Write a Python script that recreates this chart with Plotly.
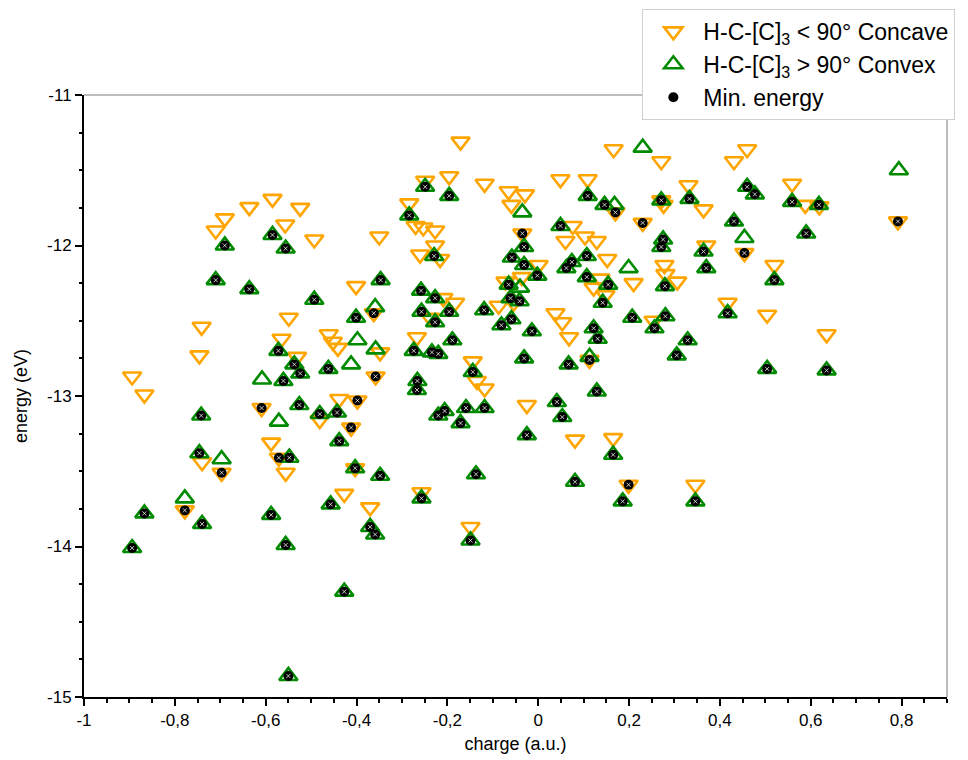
import plotly.graph_objects as go

# H-C-[C]3 < 90 deg (concave) configurations: charge (a.u.), energy (eV)
concave_x = [
    -0.585, -0.636, -0.524, -0.690, -0.710, -0.557, -0.493, -0.350, -0.401, -0.549,
    -0.741, -0.746, -0.894, -0.867, -0.565, -0.461, -0.452, -0.441, -0.362, -0.531,
    -0.348, -0.358, -0.438, -0.398, -0.609, -0.171, 0.166, -0.249, -0.196, -0.118,
    0.049, 0.109, -0.065, -0.029, -0.059, -0.284, -0.270, -0.253, -0.227, -0.227,
    -0.260, -0.216, 0.076, 0.060, 0.170, 0.230, -0.035, 0.103, 0.129, 0.001,
    0.152, 0.210, 0.137, 0.122, 0.148, -0.036, -0.072, -0.054, -0.087, -0.209,
    -0.183, -0.238, 0.038, 0.053, 0.068, 0.254, -0.267, 0.113, -0.144, -0.135,
    -0.118, -0.025, 0.271, 0.460, 0.431, 0.559, 0.588, 0.619, 0.792, 0.331,
    0.271, 0.276, 0.364, 0.454, 0.370, 0.520, 0.278, 0.280, 0.306, 0.417,
    0.504, 0.635, -0.412, -0.588, -0.740, -0.697, -0.571, -0.556, -0.403, -0.778,
    -0.427, -0.370, -0.481, 0.081, 0.165, 0.199, -0.257, -0.149, 0.346,
]
concave_y = [
    -11.69, -11.745, -11.75, -11.82, -11.90, -11.86, -11.96, -11.94, -12.27, -12.48,
    -12.54, -12.73, -12.87, -12.99, -12.62, -12.59, -12.64, -12.68, -12.45, -12.74,
    -12.71, -12.87, -13.02, -13.03, -13.08, -11.31, -11.36, -11.57, -11.54, -11.59,
    -11.56, -11.56, -11.64, -11.66, -11.73, -11.72, -11.87, -11.88, -11.90, -12.00,
    -12.06, -12.09, -11.87, -11.97, -11.78, -11.85, -11.92, -11.94, -11.97, -12.13,
    -12.09, -12.25, -12.22, -12.28, -12.33, -12.21, -12.24, -12.38, -12.40, -12.35,
    -12.38, -12.48, -12.45, -12.51, -12.61, -12.50, -12.61, -12.76, -12.77, -12.90,
    -12.95, -13.06, -11.44, -11.36, -11.44, -11.59, -11.73, -11.74, -11.84, -11.60,
    -11.70, -11.73, -11.76, -12.05, -12.00, -12.13, -12.13, -12.19, -12.24, -12.38,
    -12.46, -12.59, -13.21, -13.31, -13.44, -13.51, -13.41, -13.51, -13.48, -13.76,
    -13.65, -13.74, -13.16, -13.29, -13.28, -13.59, -13.64, -13.87, -13.59,
]

# H-C-[C]3 > 90 deg (convex) configurations
convex_x = [
    -0.585, -0.690, -0.556, -0.710, -0.636, -0.493, -0.347, -0.401, -0.572, -0.537,
    -0.524, -0.561, -0.462, -0.526, -0.742, -0.443, -0.481, -0.398, -0.608, -0.412,
    -0.358, -0.359, -0.249, -0.196, 0.109, -0.035, -0.284, -0.229, 0.049, 0.146,
    0.168, -0.031, 0.107, -0.058, -0.031, -0.002, 0.074, 0.062, 0.199, 0.107,
    0.154, 0.142, -0.065, -0.040, -0.061, -0.041, -0.258, -0.227, -0.196, -0.257,
    -0.227, -0.119, 0.207, 0.256, -0.081, -0.059, -0.014, 0.122, 0.131, -0.189,
    -0.274, -0.234, -0.220, -0.031, 0.067, 0.113, -0.144, -0.266, -0.267, 0.129,
    0.041, -0.206, -0.159, -0.118, 0.794, 0.460, 0.477, 0.559, 0.618, 0.333,
    0.271, 0.431, 0.590, 0.454, 0.275, 0.271, 0.364, 0.370, 0.520, 0.279,
    0.417, 0.280, 0.329, 0.305, 0.504, 0.635, -0.571, -0.438, -0.746, -0.697,
    -0.548, -0.403, -0.348, -0.778, -0.867, -0.740, -0.588, -0.457, -0.370, -0.359,
    -0.556, -0.894, -0.427, -0.550, -0.220, -0.171, 0.053, -0.025, 0.165, 0.081,
    -0.137, -0.257, 0.186, -0.149, 0.346, 0.230,
]
convex_y = [
    -11.93, -12.00, -12.02, -12.23, -12.29, -12.36, -12.23, -12.48, -12.70, -12.79,
    -12.85, -12.90, -12.82, -13.06, -13.13, -13.11, -13.12, -12.63, -12.89, -12.79,
    -12.69, -12.41, -11.61, -11.67, -11.67, -11.78, -11.80, -12.07, -11.87, -11.73,
    -11.73, -12.01, -12.07, -12.08, -12.13, -12.20, -12.11, -12.15, -12.15, -12.21,
    -12.26, -12.38, -12.26, -12.28, -12.35, -12.37, -12.30, -12.35, -12.44, -12.44,
    -12.51, -12.43, -12.48, -12.55, -12.53, -12.49, -12.57, -12.55, -12.62, -12.63,
    -12.70, -12.71, -12.72, -12.75, -12.79, -12.74, -12.84, -12.90, -12.96, -12.97,
    -13.04, -13.10, -13.08, -13.08, -11.50, -11.61, -11.66, -11.71, -11.73, -11.69,
    -11.70, -11.84, -11.92, -11.95, -11.96, -12.01, -12.04, -12.15, -12.23, -12.27,
    -12.45, -12.47, -12.63, -12.73, -12.82, -12.83, -13.17, -13.30, -13.38, -13.42,
    -13.41, -13.48, -13.53, -13.68, -13.78, -13.85, -13.79, -13.72, -13.87, -13.92,
    -13.99, -14.01, -14.30, -14.86, -13.13, -13.18, -13.14, -13.26, -13.39, -13.57,
    -13.52, -13.68, -13.70, -13.96, -13.70, -11.35,
]

# Lowest-energy configuration of each site
min_energy_x = [
    -0.585, -0.690, -0.556, -0.710, -0.636, -0.493, -0.347, -0.401, -0.572, -0.537,
    -0.524, -0.561, -0.462, -0.526, -0.742, -0.443, -0.481,
    -0.249, -0.196, 0.109, -0.284, -0.229, 0.049, 0.146,
    -0.031, 0.107, -0.058, -0.031, -0.002, 0.074, 0.062, 0.107,
    0.154, 0.142, -0.065, -0.061, -0.041, -0.258, -0.227, -0.196, -0.257,
    -0.227, -0.119, 0.207, 0.256, -0.081, -0.059, -0.014, 0.122, 0.131, -0.189,
    -0.274, -0.234, -0.220, -0.031, 0.067, -0.144, -0.266, -0.267, 0.129,
    0.041, -0.206, -0.159, -0.118, 0.460, 0.477, 0.559, 0.618, 0.333,
    0.271, 0.431, 0.590, 0.275, 0.271, 0.364, 0.370, 0.520, 0.279,
    0.417, 0.280, 0.329, 0.305, 0.504, 0.635, -0.438, -0.746,
    -0.548, -0.403, -0.348, -0.867, -0.740, -0.588, -0.457, -0.370, -0.359,
    -0.556, -0.894, -0.427, -0.550, -0.220, -0.171, 0.053, -0.025, 0.165, 0.081,
    -0.137, -0.257, 0.186, -0.149, 0.346,
    -0.362, -0.358, -0.398, -0.609, 0.170, 0.230, -0.035, 0.113, 0.792, 0.454,
    -0.412, -0.697, -0.571, -0.778, 0.199,
]
min_energy_y = [
    -11.93, -12.00, -12.02, -12.23, -12.29, -12.36, -12.23, -12.48, -12.70, -12.79,
    -12.85, -12.90, -12.82, -13.06, -13.13, -13.11, -13.12,
    -11.61, -11.67, -11.67, -11.80, -12.07, -11.87, -11.73,
    -12.01, -12.07, -12.08, -12.13, -12.20, -12.11, -12.15, -12.21,
    -12.26, -12.38, -12.26, -12.35, -12.37, -12.30, -12.35, -12.44, -12.44,
    -12.51, -12.43, -12.48, -12.55, -12.53, -12.49, -12.57, -12.55, -12.62, -12.63,
    -12.70, -12.71, -12.72, -12.75, -12.79, -12.84, -12.90, -12.96, -12.97,
    -13.04, -13.10, -13.08, -13.08, -11.61, -11.66, -11.71, -11.73, -11.69,
    -11.70, -11.84, -11.92, -11.96, -12.01, -12.04, -12.15, -12.23, -12.27,
    -12.45, -12.47, -12.63, -12.73, -12.82, -12.83, -13.30, -13.38,
    -13.41, -13.48, -13.53, -13.78, -13.85, -13.79, -13.72, -13.87, -13.92,
    -13.99, -14.01, -14.30, -14.86, -13.13, -13.18, -13.14, -13.26, -13.39, -13.57,
    -13.52, -13.68, -13.70, -13.96, -13.70,
    -12.45, -12.87, -13.03, -13.08, -11.78, -11.85, -11.92, -12.76, -11.84, -12.05,
    -13.21, -13.51, -13.41, -13.76, -13.59,
]

x_tick_vals = [-1, -0.8, -0.6, -0.4, -0.2, 0, 0.2, 0.4, 0.6, 0.8]
x_tick_text = ["-1", "-0,8", "-0,6", "-0,4", "-0,2", "0", "0,2", "0,4", "0,6", "0,8"]
y_tick_vals = [-15, -14, -13, -12, -11]
y_tick_text = ["-15", "-14", "-13", "-12", "-11"]

FONT = "Liberation Sans, Arial, Helvetica, sans-serif"
ORANGE = "#ffa500"
GREEN = "#008a00"

fig = go.Figure()

fig.add_trace(go.Scatter(
    x=concave_x, y=concave_y, mode="markers",
    name="H-C-[C]<sub>3</sub> < 90° Concave", legendgroup="a",
    marker=dict(symbol="triangle-down-open", size=16, color=ORANGE,
                line=dict(width=2.6, color=ORANGE)),
))
fig.add_trace(go.Scatter(
    x=convex_x, y=convex_y, mode="markers",
    name="H-C-[C]<sub>3</sub> > 90° Convex", legendgroup="b",
    marker=dict(symbol="triangle-up-open", size=16, color=GREEN,
                line=dict(width=2.6, color=GREEN)),
))
fig.add_trace(go.Scatter(
    x=min_energy_x, y=min_energy_y, mode="markers",
    name="Min. energy", legendgroup="c",
    marker=dict(symbol="circle", size=10, color="black", line=dict(width=0)),
))
# speckled highlight inside each min-energy dot
fig.add_trace(go.Scatter(
    x=min_energy_x, y=min_energy_y, mode="markers", showlegend=False,
    hoverinfo="skip",
    marker=dict(symbol="x-thin-open", size=4, color="rgba(255,255,255,0.75)",
                line=dict(width=1, color="rgba(255,255,255,0.75)")),
))

axis_common = dict(
    showline=True, linecolor="black", linewidth=2, mirror=False,
    showgrid=False, zeroline=False,
    ticks="outside", tickwidth=2, tickcolor="black",
    tickfont=dict(family=FONT, size=17, color="black"),
)

fig.update_xaxes(
    range=[-1, 0.9], tickmode="array", tickvals=x_tick_vals, ticktext=x_tick_text,
    ticklen=7,
    minor=dict(tickmode="linear", tick0=-1, dtick=0.05, ticks="outside",
               ticklen=4, tickwidth=2, tickcolor="black", showgrid=False),
    title=dict(text="charge (a.u.)", font=dict(family=FONT, size=18, color="black"),
               standoff=8),
    **axis_common,
)
fig.update_yaxes(
    range=[-15, -11], tickmode="array", tickvals=y_tick_vals, ticktext=y_tick_text,
    ticklen=7,
    minor=dict(tickmode="linear", tick0=-15, dtick=0.25, ticks="outside",
               ticklen=3, tickwidth=2, tickcolor="black", showgrid=False),
    title=dict(text="energy (eV)", font=dict(family=FONT, size=18, color="black"),
               standoff=15),
    **axis_common,
)

# thin frame on the top and right sides
fig.add_shape(type="line", xref="paper", yref="paper", x0=0, x1=1, y0=1, y1=1,
              line=dict(color="#7a7a7a", width=1), layer="below")
fig.add_shape(type="line", xref="paper", yref="paper", x0=1, x1=1, y0=0, y1=1,
              line=dict(color="#7a7a7a", width=1), layer="below")

fig.update_layout(
    width=968, height=760,
    margin=dict(l=84, r=21, t=95, b=63, autoexpand=False),
    paper_bgcolor="white", plot_bgcolor="white",
    font=dict(family=FONT, size=17, color="black"),
    showlegend=True,
    legend=dict(
        x=0.647, y=1.143, xanchor="left", yanchor="top",
        bgcolor="white", bordercolor="#cfcfcf", borderwidth=1,
        font=dict(family=FONT, size=23, color="black"),
        tracegroupgap=10, traceorder="normal", itemwidth=50,
    ),
)

fig.write_html("out.html")
